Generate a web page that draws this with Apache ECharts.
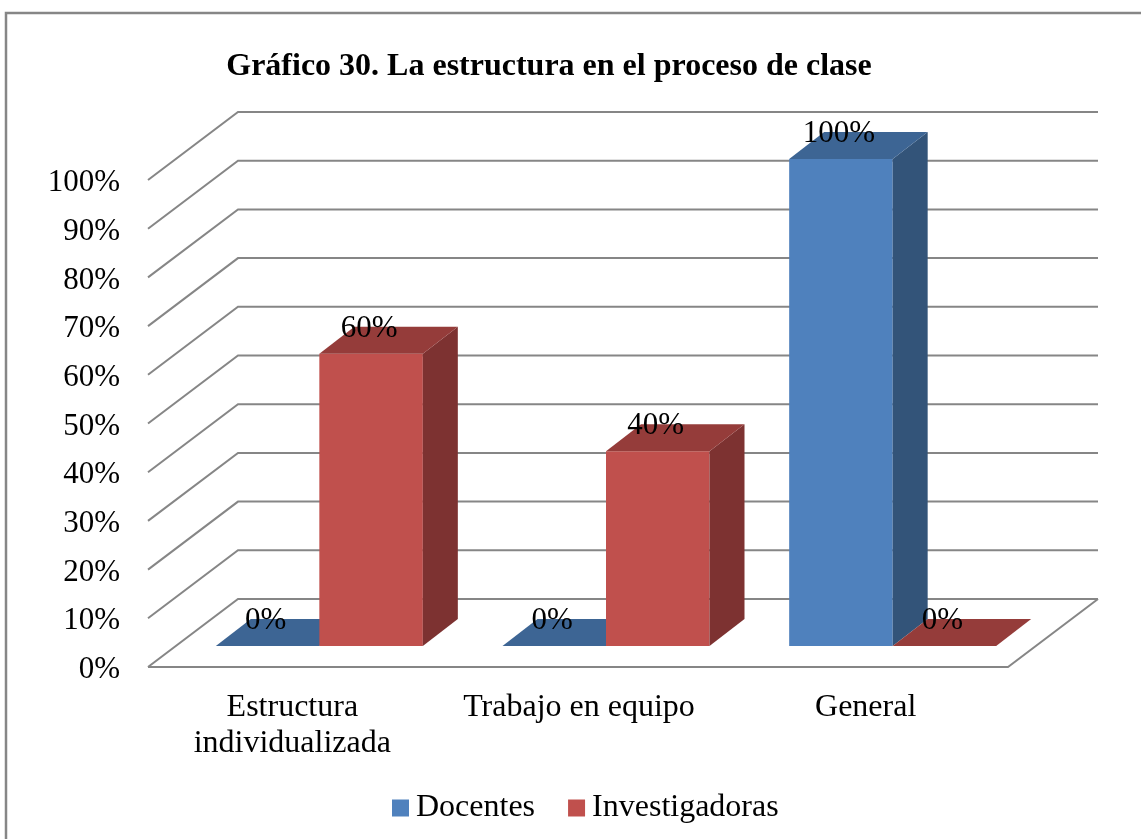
<!DOCTYPE html>
<html>
<head>
<meta charset="utf-8">
<style>html,body{margin:0;padding:0;background:#fff}#c{width:1141px;height:839px}</style>
<script src="https://cdn.jsdelivr.net/npm/echarts@6/dist/echarts.min.js"></script>
</head>
<body>
<div id="c"></div>
<script>
var categories = ['Estructura\nindividualizada', 'Trabajo en equipo', 'General'];
var docentes = [0, 0, 100];
var investigadoras = [60, 40, 0];
var ticks = [0, 10, 20, 30, 40, 50, 60, 70, 80, 90, 100];

var FONT = '"Liberation Serif", "Times New Roman", serif';
var WALL = [90, -68], SHIFT = [28, -21], DEPTH = [35, -27], BAR_W = 103.5;
var GRID_COLOR = '#868686';

function rows(arr) { return arr.map(function (v, i) { return [i, v]; }); }

function gridItem(params, api) {
  var p = api.coord([0, api.value(1)]);
  var cs = params.coordSys;
  var x0 = cs.x, y = p[1];
  var children = [{
    type: 'polyline',
    shape: { points: [[x0, y], [x0 + WALL[0], y + WALL[1]], [x0 + cs.width + WALL[0], y + WALL[1]]] },
    style: { fill: null, stroke: GRID_COLOR, lineWidth: 2 }
  }];
  if (api.value(1) === 0) {
    children.push({
      type: 'polyline',
      shape: { points: [[x0, y], [x0 + cs.width, y], [x0 + cs.width + WALL[0], y + WALL[1]]] },
      style: { fill: null, stroke: GRID_COLOR, lineWidth: 2 }
    });
  }
  return { type: 'group', children: children };
}

function barRenderer(side, front, top, right) {
  return function (params, api) {
    var v = api.value(1);
    var c = api.coord([api.value(0), v]);
    var b = api.coord([api.value(0), 0]);
    var x = c[0] + SHIFT[0] + (side < 0 ? -BAR_W : 0);
    var yT = c[1] + SHIFT[1], yB = b[1] + SHIFT[1];
    var x2 = x + BAR_W, dx = DEPTH[0], dy = DEPTH[1];
    var kids = [];
    if (v > 0) {
      kids.push({ type: 'polygon', shape: { points: [[x, yT], [x2, yT], [x2, yB], [x, yB]] }, style: { fill: front } });
      kids.push({ type: 'polygon', shape: { points: [[x2, yT], [x2 + dx, yT + dy], [x2 + dx, yB + dy], [x2, yB]] }, style: { fill: right } });
    }
    kids.push({ type: 'polygon', shape: { points: [[x, yT], [x + dx, yT + dy], [x2 + dx, yT + dy], [x2, yT]] }, style: { fill: top } });
    kids.push({
      type: 'text', z2: 100,
      style: {
        x: x + BAR_W / 2 - 2, y: yT - 25, text: v + '%', fill: '#000',
        font: '31px ' + FONT, textAlign: 'center', textVerticalAlign: 'middle'
      }
    });
    return { type: 'group', children: kids };
  };
}

var chart = echarts.init(document.getElementById('c'), null, { renderer: 'canvas' });
chart.setOption({
  backgroundColor: '#fff',
  animation: false,
  title: {
    text: 'Gráfico 30. La estructura en el proceso de clase',
    left: 544, top: 46, textAlign: 'center',
    textStyle: { fontFamily: FONT, fontSize: 32, fontWeight: 'bold', color: '#000' }
  },
  legend: {
    data: ['Docentes', 'Investigadoras'],
    left: 387, top: 787,
    icon: 'rect', itemWidth: 17, itemHeight: 17, itemGap: 33,
    textStyle: { fontFamily: FONT, fontSize: 32, color: '#000', padding: [0, 0, 0, 2] }
  },
  grid: { left: 148, right: 133, top: 180, bottom: 172 },
  xAxis: {
    type: 'category', data: categories,
    axisLine: { show: false }, axisTick: { show: false }, splitLine: { show: false },
    axisLabel: { fontFamily: FONT, fontSize: 32, color: '#000', margin: 23, lineHeight: 36, interval: 0, padding: [0, 0, 0, 2] }
  },
  yAxis: {
    type: 'value', min: 0, max: 100, interval: 10,
    axisLine: { show: false }, axisTick: { show: false }, splitLine: { show: false },
    axisLabel: {
      formatter: '{t|{value}%}', fontFamily: FONT, fontSize: 31, color: '#000', margin: 28,
      rich: { t: { fontFamily: FONT, fontSize: 31, color: '#000', padding: [6, 0, 0, 0] } }
    }
  },
  graphic: [{
    type: 'rect', silent: true, z: -1,
    shape: { x: 6, y: 13, width: 1150, height: 840 },
    style: { fill: null, stroke: '#868686', lineWidth: 2.5 }
  }],
  series: [
    { type: 'custom', name: 'grid', silent: true, z: 1, data: ticks.map(function (t) { return [0, t]; }), renderItem: gridItem, encode: { x: 0, y: 1 } },
    { type: 'custom', name: 'Docentes', z: 2, itemStyle: { color: '#4F81BD' }, data: rows(docentes), encode: { x: 0, y: 1 },
      renderItem: barRenderer(-1, '#4F81BD', '#3D6594', '#335479') },
    { type: 'custom', name: 'Investigadoras', z: 3, itemStyle: { color: '#C0504D' }, data: rows(investigadoras), encode: { x: 0, y: 1 },
      renderItem: barRenderer(1, '#C0504D', '#953C3A', '#7D3231') }
  ]
});
</script>
</body>
</html>
